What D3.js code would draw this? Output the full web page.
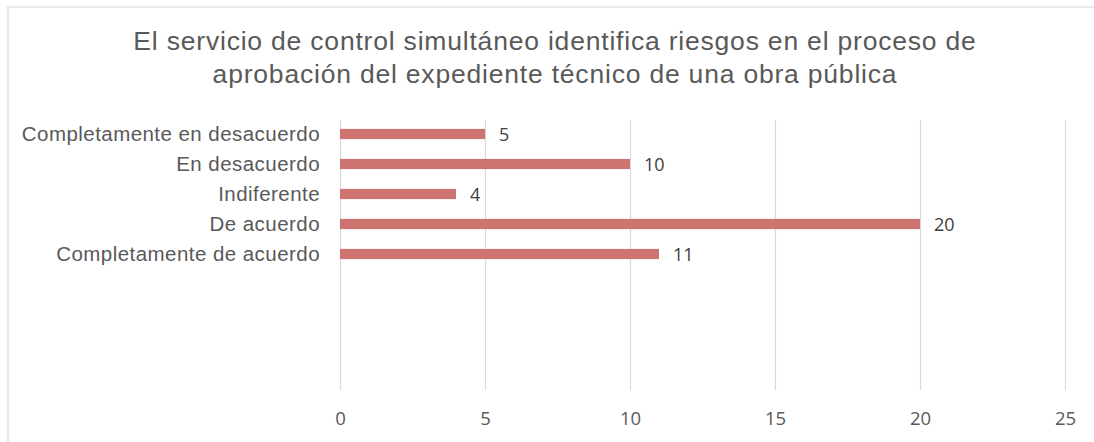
<!DOCTYPE html>
<html>
<head>
<meta charset="utf-8">
<script src="https://cdn.jsdelivr.net/npm/d3@7"></script>
<style>
  html, body { margin: 0; padding: 0; background: #fff; }
  svg { display: block; }
</style>
</head>
<body>
<svg id="chart" width="1094" height="442"></svg>
<script>
// Survey responses
const categories = [
  "Completamente en desacuerdo",
  "En desacuerdo",
  "Indiferente",
  "De acuerdo",
  "Completamente de acuerdo"
];
const values = [5, 10, 4, 20, 11];
const xTicks = [0, 5, 10, 15, 20, 25];
const titleLines = [
  "El servicio de control simultáneo identifica riesgos en el proceso de",
  "aprobación del expediente técnico de una obra pública"
];

const svg = d3.select("#chart");
const W = 1094, H = 442;

// outer frame (top and left edges visible)
svg.append("line")
  .attr("x1", 7).attr("x2", W).attr("y1", 7).attr("y2", 7)
  .attr("stroke", "#ebebeb").attr("stroke-width", 2);
svg.append("line")
  .attr("x1", 8).attr("x2", 8).attr("y1", 6).attr("y2", H)
  .attr("stroke", "#ebebeb").attr("stroke-width", 2.5);

// title
svg.append("g").selectAll("text")
  .data(titleLines)
  .join("text")
  .attr("x", 555)
  .attr("y", (d, i) => 50 + i * 33)
  .attr("text-anchor", "middle")
  .attr("font-family", "'Liberation Sans', Arial, sans-serif")
  .attr("font-size", 26.5)
  .attr("letter-spacing", 0.8)
  .attr("fill", "#595959")
  .text(d => d);

const plotLeft = 340, plotRight = 1065;
const gridTop = 120, gridBottom = 390;

const x = d3.scaleLinear().domain([0, 25]).range([plotLeft, plotRight]);
const y = d3.scaleBand().domain(categories).range([119, 269]).paddingInner(0.66).paddingOuter(0.33);

// vertical gridlines
svg.append("g").selectAll("line")
  .data(xTicks)
  .join("line")
  .attr("x1", d => x(d) + 0.5).attr("x2", d => x(d) + 0.5)
  .attr("y1", gridTop).attr("y2", gridBottom)
  .attr("stroke", "#d9d9d9").attr("stroke-width", 1.2);

// x axis tick labels
const xAxis = d3.axisBottom(x).tickValues(xTicks).tickSize(0).tickPadding(0);
const gx = svg.append("g").attr("transform", `translate(0, ${gridBottom + 22})`).call(xAxis);
gx.select(".domain").remove();
gx.selectAll("text")
  .attr("font-family", "'Liberation Sans Narrow', 'Open Sans', sans-serif")
  .attr("font-size", 18.5)
  .attr("fill", "#595959");

// category labels
const yAxis = d3.axisLeft(y).tickSize(0).tickPadding(0);
const gy = svg.append("g").attr("transform", `translate(320, 0)`).call(yAxis);
gy.select(".domain").remove();
gy.selectAll("text")
  .attr("font-family", "'Liberation Sans', Arial, sans-serif")
  .attr("font-size", 20.5)
  .attr("letter-spacing", 0.45)
  .attr("fill", "#595959")
  .attr("dy", "0.36em");

// bars
const data = categories.map((c, i) => ({ c, v: values[i] }));
svg.append("g").selectAll("rect")
  .data(data)
  .join("rect")
  .attr("x", x(0))
  .attr("y", d => y(d.c))
  .attr("width", d => x(d.v) - x(0))
  .attr("height", y.bandwidth())
  .attr("fill", "#cd7370");

// value labels
svg.append("g").selectAll("text")
  .data(data)
  .join("text")
  .attr("x", d => x(d.v) + 14)
  .attr("y", d => y(d.c) + y.bandwidth() / 2 + 1)
  .attr("dy", "0.35em")
  .attr("font-family", "'Liberation Sans Narrow', 'Open Sans', sans-serif")
  .attr("font-size", 18)
  .attr("fill", "#404040")
  .text(d => d.v);
</script>
</body>
</html>
